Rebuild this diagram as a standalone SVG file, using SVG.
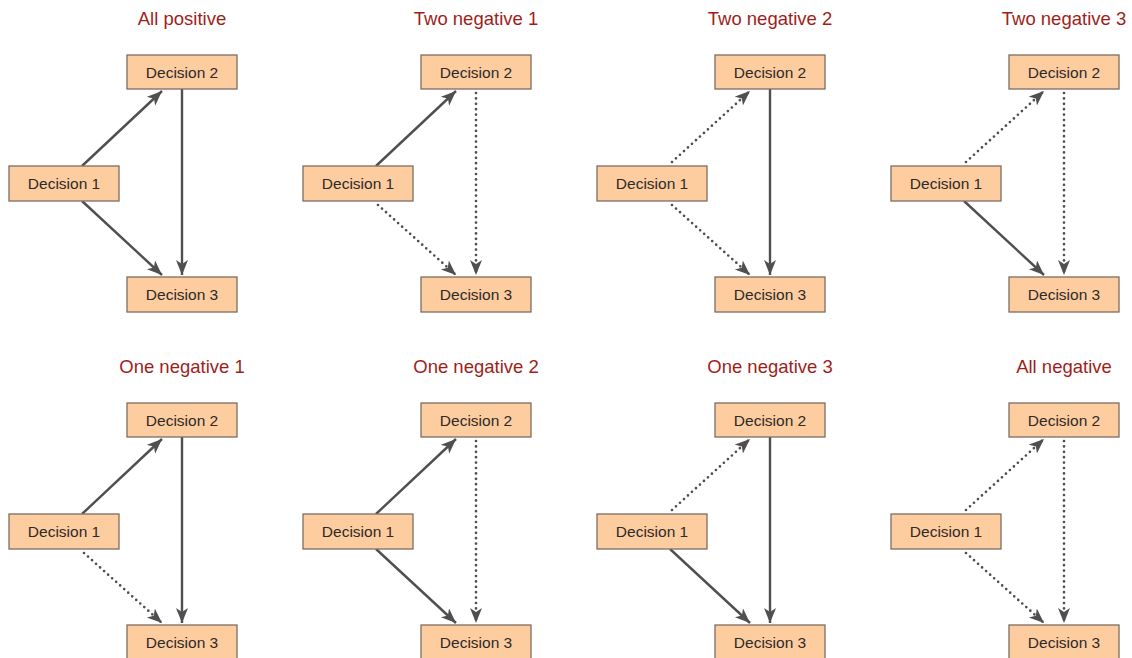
<svg xmlns="http://www.w3.org/2000/svg" width="1132" height="658" viewBox="0 0 1132 658">
<defs>
<style>
.title{font-family:"Liberation Sans",Arial,sans-serif;font-size:18.5px;fill:#a01e1a;text-anchor:middle}
.box{fill:#fdcda0;stroke:#7d6e62;stroke-width:1.3}
.lbl{font-family:"Liberation Sans",Arial,sans-serif;font-size:15.5px;fill:#2e2a28;text-anchor:middle}
.s{stroke:#4f4f4f;stroke-width:2.4;fill:none;marker-end:url(#ah)}
.d{stroke:#4f4f4f;stroke-width:2.7;fill:none;stroke-dasharray:0 5.4;stroke-linecap:round;marker-end:url(#ah)}
</style>
<marker id="ah" markerUnits="userSpaceOnUse" markerWidth="18" markerHeight="14" refX="15" refY="6" orient="auto" viewBox="0 0 18 14">
<path d="M0,0 L15,6 L0,12 L4,6 Z" fill="#4f4f4f"/>
</marker>
</defs>
<rect width="1132" height="658" fill="#ffffff"/>

<g id="titles">
<text class="title" x="182" y="25">All positive</text>
<text class="title" x="476" y="25">Two negative 1</text>
<text class="title" x="770" y="25">Two negative 2</text>
<text class="title" x="1064" y="25">Two negative 3</text>
<text class="title" x="182" y="373">One negative 1</text>
<text class="title" x="476" y="373">One negative 2</text>
<text class="title" x="770" y="373">One negative 3</text>
<text class="title" x="1064" y="373">All negative</text>
</g>

<g id="connectors">
<g transform="translate(0,0)"><path class="s" d="M82,166 L162,91"/><path class="s" d="M182,89 L182,275"/><path class="s" d="M82,201 L162,275"/></g>
<g transform="translate(294,0)"><path class="s" d="M82,166 L162,91"/><path class="d" d="M182,93 L182,275"/><path class="d" d="M84,205 L162,275"/></g>
<g transform="translate(588,0)"><path class="d" d="M84,162 L162,91"/><path class="s" d="M182,89 L182,275"/><path class="d" d="M84,205 L162,275"/></g>
<g transform="translate(882,0)"><path class="d" d="M84,162 L162,91"/><path class="d" d="M182,93 L182,275"/><path class="s" d="M82,201 L162,275"/></g>
<g transform="translate(0,348)"><path class="s" d="M82,166 L162,91"/><path class="s" d="M182,89 L182,275"/><path class="d" d="M84,205 L162,275"/></g>
<g transform="translate(294,348)"><path class="s" d="M82,166 L162,91"/><path class="d" d="M182,93 L182,275"/><path class="s" d="M82,201 L162,275"/></g>
<g transform="translate(588,348)"><path class="d" d="M84,162 L162,91"/><path class="s" d="M182,89 L182,275"/><path class="s" d="M82,201 L162,275"/></g>
<g transform="translate(882,348)"><path class="d" d="M84,162 L162,91"/><path class="d" d="M182,93 L182,275"/><path class="d" d="M84,205 L162,275"/></g>
</g>

<g id="p1" transform="translate(0,0)">
<g id="p1-d1"><rect class="box" x="9" y="166" width="110" height="35"/><text class="lbl" x="64" y="189">Decision 1</text></g>
<g id="p1-d2"><rect class="box" x="127" y="55" width="110" height="34"/><text class="lbl" x="182" y="77.5">Decision 2</text></g>
<g id="p1-d3"><rect class="box" x="127" y="277" width="110" height="35"/><text class="lbl" x="182" y="300">Decision 3</text></g>
</g>
<g id="p2" transform="translate(294,0)">
<g id="p2-d1"><rect class="box" x="9" y="166" width="110" height="35"/><text class="lbl" x="64" y="189">Decision 1</text></g>
<g id="p2-d2"><rect class="box" x="127" y="55" width="110" height="34"/><text class="lbl" x="182" y="77.5">Decision 2</text></g>
<g id="p2-d3"><rect class="box" x="127" y="277" width="110" height="35"/><text class="lbl" x="182" y="300">Decision 3</text></g>
</g>
<g id="p3" transform="translate(588,0)">
<g id="p3-d1"><rect class="box" x="9" y="166" width="110" height="35"/><text class="lbl" x="64" y="189">Decision 1</text></g>
<g id="p3-d2"><rect class="box" x="127" y="55" width="110" height="34"/><text class="lbl" x="182" y="77.5">Decision 2</text></g>
<g id="p3-d3"><rect class="box" x="127" y="277" width="110" height="35"/><text class="lbl" x="182" y="300">Decision 3</text></g>
</g>
<g id="p4" transform="translate(882,0)">
<g id="p4-d1"><rect class="box" x="9" y="166" width="110" height="35"/><text class="lbl" x="64" y="189">Decision 1</text></g>
<g id="p4-d2"><rect class="box" x="127" y="55" width="110" height="34"/><text class="lbl" x="182" y="77.5">Decision 2</text></g>
<g id="p4-d3"><rect class="box" x="127" y="277" width="110" height="35"/><text class="lbl" x="182" y="300">Decision 3</text></g>
</g>
<g id="p5" transform="translate(0,348)">
<g id="p5-d1"><rect class="box" x="9" y="166" width="110" height="35"/><text class="lbl" x="64" y="189">Decision 1</text></g>
<g id="p5-d2"><rect class="box" x="127" y="55" width="110" height="34"/><text class="lbl" x="182" y="77.5">Decision 2</text></g>
<g id="p5-d3"><rect class="box" x="127" y="277" width="110" height="35"/><text class="lbl" x="182" y="300">Decision 3</text></g>
</g>
<g id="p6" transform="translate(294,348)">
<g id="p6-d1"><rect class="box" x="9" y="166" width="110" height="35"/><text class="lbl" x="64" y="189">Decision 1</text></g>
<g id="p6-d2"><rect class="box" x="127" y="55" width="110" height="34"/><text class="lbl" x="182" y="77.5">Decision 2</text></g>
<g id="p6-d3"><rect class="box" x="127" y="277" width="110" height="35"/><text class="lbl" x="182" y="300">Decision 3</text></g>
</g>
<g id="p7" transform="translate(588,348)">
<g id="p7-d1"><rect class="box" x="9" y="166" width="110" height="35"/><text class="lbl" x="64" y="189">Decision 1</text></g>
<g id="p7-d2"><rect class="box" x="127" y="55" width="110" height="34"/><text class="lbl" x="182" y="77.5">Decision 2</text></g>
<g id="p7-d3"><rect class="box" x="127" y="277" width="110" height="35"/><text class="lbl" x="182" y="300">Decision 3</text></g>
</g>
<g id="p8" transform="translate(882,348)">
<g id="p8-d1"><rect class="box" x="9" y="166" width="110" height="35"/><text class="lbl" x="64" y="189">Decision 1</text></g>
<g id="p8-d2"><rect class="box" x="127" y="55" width="110" height="34"/><text class="lbl" x="182" y="77.5">Decision 2</text></g>
<g id="p8-d3"><rect class="box" x="127" y="277" width="110" height="35"/><text class="lbl" x="182" y="300">Decision 3</text></g>
</g>
</svg>
